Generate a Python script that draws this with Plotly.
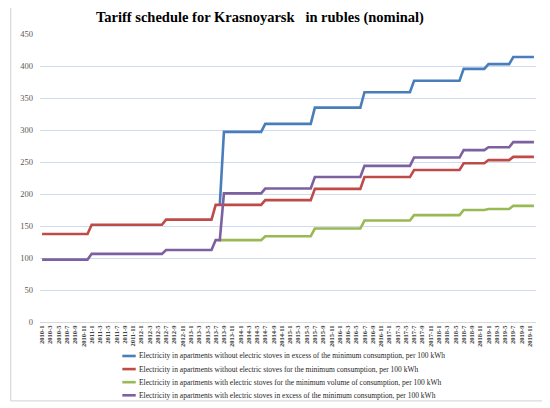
import plotly.graph_objects as go

# monthly categories 2010-1 .. 2019-12
months = [f"{y}-{m}" for y in range(2010, 2020) for m in range(1, 13)]
tick_labels = months[::2]

# tariffs, rubles per 100 kWh, one row per year (Jan..Dec)
no_stove_excess = [
    None, None, None, None, None, None, None, None, None, None, None, None,
    None, None, None, None, None, None, None, None, None, None, None, None,
    None, None, None, None, None, None, None, None, None, None, None, None,
    None, None, None, None, None, None, None, 183, 297, 297, 297, 297,
    297, 297, 297, 297, 297, 297, 309.5, 309.5, 309.5, 309.5, 309.5, 309.5,
    309.5, 309.5, 309.5, 309.5, 309.5, 309.5, 335, 335, 335, 335, 335, 335,
    335, 335, 335, 335, 335, 335, 359, 359, 359, 359, 359, 359,
    359, 359, 359, 359, 359, 359, 377, 377, 377, 377, 377, 377,
    377, 377, 377, 377, 377, 377, 395.5, 395.5, 395.5, 395.5, 395.5, 395.5,
    403, 403, 403, 403, 403, 403, 414, 414, 414, 414, 414, 414,
]
no_stove_min = [
    137.5, 137.5, 137.5, 137.5, 137.5, 137.5, 137.5, 137.5, 137.5, 137.5, 137.5, 137.5,
    152, 152, 152, 152, 152, 152, 152, 152, 152, 152, 152, 152,
    152, 152, 152, 152, 152, 152, 160, 160, 160, 160, 160, 160,
    160, 160, 160, 160, 160, 160, 183, 183, 183, 183, 183, 183,
    183, 183, 183, 183, 183, 183, 190.5, 190.5, 190.5, 190.5, 190.5, 190.5,
    190.5, 190.5, 190.5, 190.5, 190.5, 190.5, 208, 208, 208, 208, 208, 208,
    208, 208, 208, 208, 208, 208, 226.5, 226.5, 226.5, 226.5, 226.5, 226.5,
    226.5, 226.5, 226.5, 226.5, 226.5, 226.5, 237.5, 237.5, 237.5, 237.5, 237.5, 237.5,
    237.5, 237.5, 237.5, 237.5, 237.5, 237.5, 248, 248, 248, 248, 248, 248,
    253, 253, 253, 253, 253, 253, 258, 258, 258, 258, 258, 258,
]
stove_min = [
    None, None, None, None, None, None, None, None, None, None, None, None,
    None, None, None, None, None, None, None, None, None, None, None, None,
    None, None, None, None, None, None, None, None, None, None, None, None,
    None, None, None, None, None, None, None, 128, 128, 128, 128, 128,
    128, 128, 128, 128, 128, 128, 134, 134, 134, 134, 134, 134,
    134, 134, 134, 134, 134, 134, 146, 146, 146, 146, 146, 146,
    146, 146, 146, 146, 146, 146, 158.5, 158.5, 158.5, 158.5, 158.5, 158.5,
    158.5, 158.5, 158.5, 158.5, 158.5, 158.5, 167, 167, 167, 167, 167, 167,
    167, 167, 167, 167, 167, 167, 175, 175, 175, 175, 175, 175,
    176.5, 176.5, 176.5, 176.5, 176.5, 176.5, 181.5, 181.5, 181.5, 181.5, 181.5, 181.5,
]
stove_excess = [
    97.5, 97.5, 97.5, 97.5, 97.5, 97.5, 97.5, 97.5, 97.5, 97.5, 97.5, 97.5,
    106.5, 106.5, 106.5, 106.5, 106.5, 106.5, 106.5, 106.5, 106.5, 106.5, 106.5, 106.5,
    106.5, 106.5, 106.5, 106.5, 106.5, 106.5, 112.5, 112.5, 112.5, 112.5, 112.5, 112.5,
    112.5, 112.5, 112.5, 112.5, 112.5, 112.5, 128, 128, 201, 201, 201, 201,
    201, 201, 201, 201, 201, 201, 208.5, 208.5, 208.5, 208.5, 208.5, 208.5,
    208.5, 208.5, 208.5, 208.5, 208.5, 208.5, 226.5, 226.5, 226.5, 226.5, 226.5, 226.5,
    226.5, 226.5, 226.5, 226.5, 226.5, 226.5, 244, 244, 244, 244, 244, 244,
    244, 244, 244, 244, 244, 244, 257, 257, 257, 257, 257, 257,
    257, 257, 257, 257, 257, 257, 268.5, 268.5, 268.5, 268.5, 268.5, 268.5,
    273, 273, 273, 273, 273, 273, 281, 281, 281, 281, 281, 281,
]

series = [
    ("Electricity in apartments without electric stoves in excess of the minimum consumption, per 100 kWh",
     no_stove_excess, "#4a7ebb"),
    ("Electricity in apartments without electric stoves for the minimum consumption, per 100 kWh",
     no_stove_min, "#be4b48"),
    ("Electricity in apartments with electric stoves for the minimum volume of consumption, per 100 kWh",
     stove_min, "#98b954"),
    ("Electricity in apartments with electric stoves in excess of the minimum consumption, per 100 kWh",
     stove_excess, "#7d60a0"),
]

serif = "Liberation Serif"

fig = go.Figure()
for name, values, color in series:
    fig.add_trace(go.Scatter(
        x=months, y=values, mode="lines", name=name,
        line=dict(color=color, width=2.6),
    ))

# plotly's own legend rows are too tall here, so draw a compact one by hand
legend_shapes = []
legend_notes = []
for i, (name, values, color) in enumerate(series):
    y = -0.118 - i * 0.0455
    legend_shapes.append(dict(
        type="line", xref="paper", yref="paper",
        x0=0.166, x1=0.193, y0=y, y1=y,
        line=dict(color=color, width=2.6),
    ))
    legend_notes.append(dict(
        text=name, xref="paper", yref="paper", x=0.195, y=y,
        xanchor="left", yanchor="middle", showarrow=False,
        font=dict(family=serif, size=7.5, color="#262626"),
    ))

# page body has an 8px margin, so everything is nudged up/left by 8px
fig.update_layout(
    width=550, height=408,
    margin=dict(l=23, r=22, t=26, b=94),
    paper_bgcolor="white", plot_bgcolor="white",
    showlegend=False,
    title=dict(
        text="Tariff schedule for Krasnoyarsk\u00a0\u00a0\u00a0in rubles (nominal)",
        font=dict(family=serif, size=14.5, color="#000000", weight="bold"),
        x=0.458, xanchor="center", xref="container",
        y=0.978, yanchor="middle", yref="container",
    ),
    xaxis=dict(
        type="category", categoryorder="array", categoryarray=months,
        range=[-0.5, len(months) - 0.5],
        tickmode="array", tickvals=tick_labels, ticktext=tick_labels,
        tickangle=-90, showgrid=False,
        tickfont=dict(family=serif, size=6.5, color="#404040", weight="bold"),
        showline=True, linecolor="#d9d9d9", linewidth=1, ticks="",
    ),
    yaxis=dict(
        range=[0, 450], dtick=50, showgrid=True, gridcolor="#cfdbef", gridwidth=1.2,
        zeroline=False, tickfont=dict(family=serif, size=8.5, color="#595959"),
        ticks="", ticklabelstandoff=6,
    ),
    annotations=legend_notes,
    shapes=[dict(
        type="rect", xref="paper", yref="paper",
        x0=-0.059, x1=1.023, y0=-0.274, y1=1.115,
        line=dict(color="#d0d0d0", width=1), fillcolor="rgba(0,0,0,0)",
    )] + legend_shapes,
)

fig.write_html("out.html")
